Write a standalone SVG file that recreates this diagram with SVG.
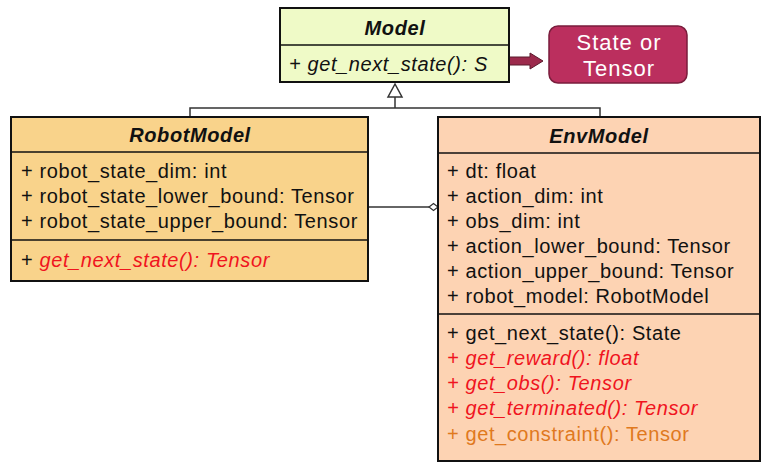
<svg xmlns="http://www.w3.org/2000/svg" width="772" height="472" viewBox="0 0 772 472">
<style>
text{font-family:"Liberation Sans",Arial,sans-serif;font-size:20px;letter-spacing:0.6px;fill:#111}
.t{font-weight:bold;font-style:italic;text-anchor:middle}
.box{stroke:#111;stroke-width:2}
.div{stroke:#111;stroke-width:1.5}
.red{fill:#f0141e;font-style:italic}
.org{fill:#e0791e}
.ln{stroke:#333;stroke-width:1.5;fill:none}
.w{fill:#fff;text-anchor:middle;font-size:22px;letter-spacing:1px}
</style>
<rect width="772" height="472" fill="#fff"/>
<g id="connectors">
<polyline class="ln" points="190,117 190,108 600,108 600,117"/>
<line class="ln" x1="395" y1="108" x2="395" y2="97"/>
<polygon points="395,84 388,97 402,97" fill="#fff" stroke="#333" stroke-width="1.5"/>
<line class="ln" x1="368" y1="207" x2="429" y2="207"/>
<polygon points="429,207 433.5,203.5 438,207 433.5,210.5" fill="#fff" stroke="#333" stroke-width="1.2"/>
<polygon points="497,57 530,57 530,53 543,61 530,69 530,65 497,65" fill="#9c2a4c" stroke="#5a1a2c" stroke-width="1"/>
</g>
<g id="model">
<rect class="box" x="280" y="8" width="229" height="74" fill="#effac7"/>
<line class="div" x1="280" y1="45" x2="509" y2="45"/>
<text class="t" x="395" y="35">Model</text>
<text x="289" y="71" font-style="italic">+ get_next_state(): S</text>
</g>
<g id="state">
<rect x="549" y="26" width="138" height="57" rx="9" fill="#bb2f5e" stroke="#7a1d3c" stroke-width="1.5"/>
<text x="619" y="50" class="w">State or</text>
<text x="619" y="76" class="w">Tensor</text>
</g>
<g id="robotmodel">
<rect class="box" x="11" y="117" width="357" height="164" fill="#f9d38b"/>
<line class="div" x1="11" y1="152" x2="368" y2="152"/>
<line class="div" x1="11" y1="240" x2="368" y2="240"/>
<text class="t" x="190" y="142">RobotModel</text>
<text x="21" y="178">+ robot_state_dim: int</text>
<text x="21" y="203">+ robot_state_lower_bound: Tensor</text>
<text x="21" y="228">+ robot_state_upper_bound: Tensor</text>
<text x="21" y="267">+ <tspan class="red">get_next_state(): Tensor</tspan></text>
</g>
<g id="envmodel">
<rect class="box" x="438" y="117" width="322" height="344" fill="#fdd3b3"/>
<line class="div" x1="438" y1="153" x2="760" y2="153"/>
<line class="div" x1="438" y1="314" x2="760" y2="314"/>
<text class="t" x="599" y="143">EnvModel</text>
<text x="447" y="178">+ dt: float</text>
<text x="447" y="203">+ action_dim: int</text>
<text x="447" y="228">+ obs_dim: int</text>
<text x="447" y="253">+ action_lower_bound: Tensor</text>
<text x="447" y="278">+ action_upper_bound: Tensor</text>
<text x="447" y="303">+ robot_model: RobotModel</text>
<text x="447" y="340">+ get_next_state(): State</text>
<text x="447" y="365" class="red">+ get_reward(): float</text>
<text x="447" y="390" class="red">+ get_obs(): Tensor</text>
<text x="447" y="415" class="red">+ get_terminated(): Tensor</text>
<text x="447" y="441" class="org">+ get_constraint(): Tensor</text>
</g>
</svg>
